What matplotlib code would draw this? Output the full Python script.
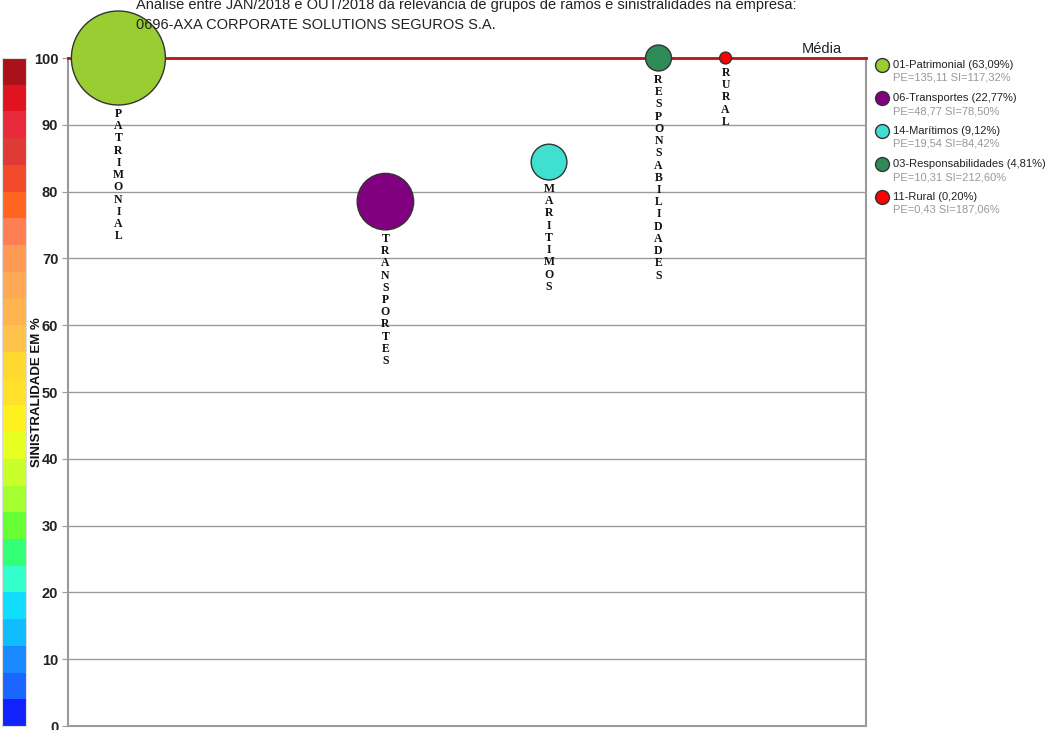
import numpy as np
import matplotlib
matplotlib.use('Agg')
import matplotlib.pyplot as plt
from matplotlib.lines import Line2D

# ── Data ──────────────────────────────────────────────────────────────────────
codigos = ['01', '06', '14', '03', '11']
ramos = ['Patrimonial', 'Transportes', 'Marítimos', 'Responsabilidades', 'Rural']
rotulos = ['PATRIMONIAL', 'TRANSPORTES', 'MARITIMOS', 'RESPONSABILIDADES', 'RURAL']
participacao = [63.09, 22.77, 9.12, 4.81, 0.20]      # % of premiums
premios = [135.11, 48.77, 19.54, 10.31, 0.43]         # PE
sinistralidade = [117.32, 78.50, 84.42, 212.60, 187.06]  # SI %
cores = ['#9ACD32', '#800080', '#40E0D0', '#2E8B57', '#FF0000']

media = 100.0

# colour scale, top (100) to bottom (0), 4 % bands
escala_cores = ['#AA1118', '#E0141E', '#E82A3A', '#E03A36', '#F04A2A',
                '#FF6420', '#FF7F55', '#FF9A55', '#FFA855', '#FFB450',
                '#FFC24A', '#FFD830', '#FFE02A', '#FFF020', '#E8FF22',
                '#C8FF2A', '#A4FF30', '#66FF33', '#33FF77', '#33FFCC',
                '#11DDFF', '#11BBFF', '#1A88FF', '#1A66FF', '#1122FF']

titulo1 = ('Análise entre JAN/2018 e OUT/2018 da relevância de grupos de ramos '
           'e sinistralidades na empresa:')
titulo2 = '0696-AXA CORPORATE SOLUTIONS SEGUROS S.A.'

# ── Layout derived from data ─────────────────────────────────────────────────
raio = np.maximum(np.sqrt(participacao), 1.0)        # bubble radius ~ sqrt(share)
xs = np.concatenate([[2.4], 2.4 + np.cumsum(raio[:-1] + raio[1:])])
ys = np.minimum(sinistralidade, 100.0)
sizes = 72.6 * raio ** 2

plt.rcParams['font.family'] = ['Liberation Sans', 'DejaVu Sans']

fig = plt.figure(figsize=(10.5, 7.3), dpi=100)

# colour scale on the left (drawn first, so the axis label sits on top)
cax = fig.add_axes([2 / 1050, 4 / 730, 24 / 1050, 668 / 730])
bases = np.arange(96, -1, -4)
cax.bar(0, 4, bottom=bases, width=1, color=escala_cores, align='edge')
cax.set_xlim(0, 1)
cax.set_ylim(0, 100)
cax.set_xticks([])
cax.set_yticks([])
for s in cax.spines.values():
    s.set_color('#dddddd')
    s.set_linewidth(0.8)

ax = fig.add_axes([68 / 1050, 4 / 730, 798 / 1050, 668 / 730])

GRID = '#9a9a9a'
ax.set_xlim(0, 38)
ax.set_ylim(0, 100)
ax.set_yticks(np.arange(0, 101, 10))
ax.set_xticks([])
ax.tick_params(axis='y', length=4, color=GRID, pad=3, labelsize=10.5)
for lbl in ax.get_yticklabels():
    lbl.set_fontweight('bold')
    lbl.set_color('#222222')
for t in np.arange(10, 100, 10):
    ax.axhline(t, color=GRID, lw=1.0, zorder=1)
for side in ['left', 'right', 'bottom']:
    ax.spines[side].set_color(GRID)
    ax.spines[side].set_linewidth(1.5)
ax.spines['top'].set_visible(False)

ax.axhline(media, color='#B81414', lw=2.0, zorder=3, clip_on=False)
ax.text(0.97, 100.3, 'Média', transform=ax.get_yaxis_transform(),
        ha='right', va='bottom', fontsize=10.5, color='#222222')

ax.set_ylabel('SINISTRALIDADE EM %', fontsize=9.5, fontweight='bold',
              color='#111111')
ax.yaxis.set_label_coords(-0.031, 0.5)

# bubbles
ax.scatter(xs, ys, s=sizes, c=cores, edgecolors='#333333', linewidths=1.0,
           zorder=6, clip_on=False)

# vertical stacked labels under each bubble
for x, y, r, nome in zip(xs, ys, raio, rotulos):
    r_pt = np.sqrt(72.6) * r / 2
    for i, ch in enumerate(nome):
        ax.annotate(ch, (x, y), xytext=(0, -(r_pt + 6.5 + i * 8.8)),
                    textcoords='offset points', ha='center', va='center',
                    fontsize=8.5, fontweight='bold', family='Liberation Serif',
                    color='#111111', zorder=7)

# title
fig.text(136 / 1050, 1 - 5 / 730, titulo1, ha='left', va='center',
         fontsize=10.5, color='#222222', zorder=0)
fig.text(136 / 1050, 1 - 25 / 730, titulo2, ha='left', va='center',
         fontsize=10.5, color='#222222', zorder=0)

# legend on the right
for i, (cod, ramo, part, pe, si, cor) in enumerate(
        zip(codigos, ramos, participacao, premios, sinistralidade, cores)):
    yc = 1 - (65 + 33 * i) / 730
    fig.add_artist(Line2D([882 / 1050], [yc], marker='o', markersize=10,
                          markerfacecolor=cor, markeredgecolor='#333333',
                          markeredgewidth=1.0, linestyle='none'))
    fig.text(893 / 1050, yc, f'{cod}-{ramo} ({part:.2f}%)'.replace('.', ','),
             ha='left', va='center', fontsize=8, color='#222222')
    fig.text(893 / 1050, yc - 13 / 730,
             f'PE={pe:.2f} SI={si:.2f}%'.replace('.', ','),
             ha='left', va='center', fontsize=8, color='#999999')

fig.savefig('out.png', dpi=100)
